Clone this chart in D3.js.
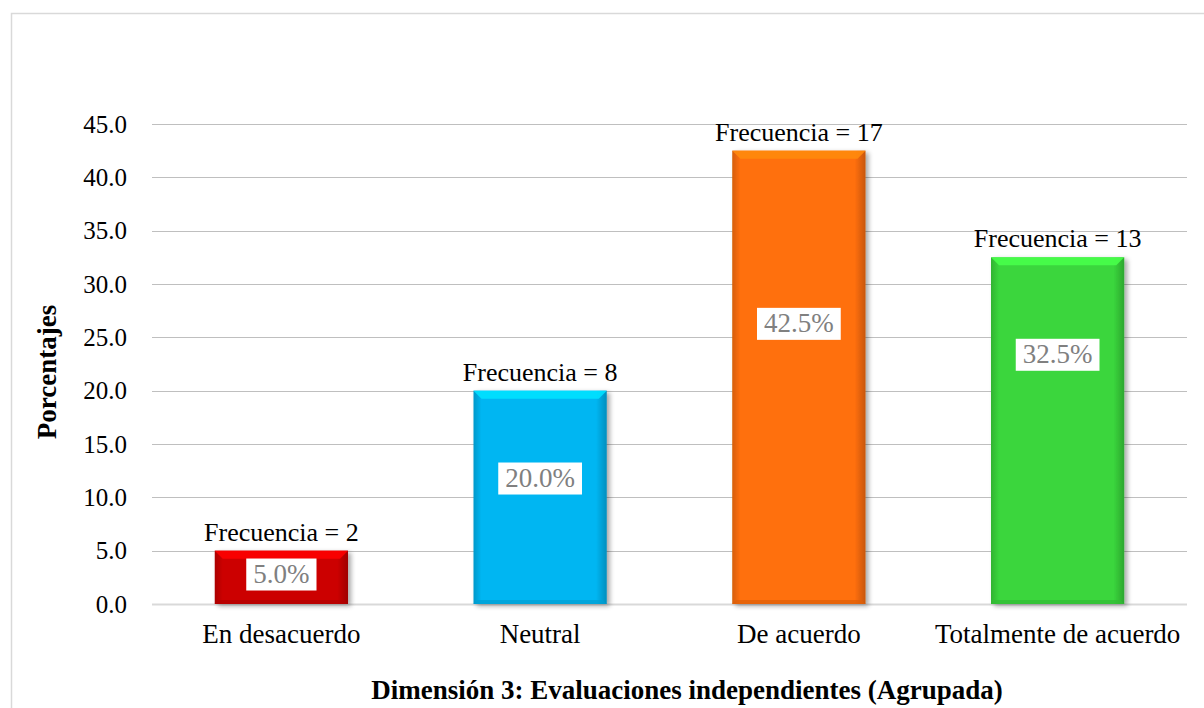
<!DOCTYPE html>
<html>
<head>
<meta charset="utf-8">
<script src="https://cdn.jsdelivr.net/npm/d3@7/dist/d3.min.js"></script>
<style>
  html, body { margin: 0; padding: 0; background: #fff; }
  svg { display: block; }
</style>
</head>
<body>
<svg id="chart"></svg>
<script>
const categories = ["En desacuerdo", "Neutral", "De acuerdo", "Totalmente de acuerdo"];
const percentages = [5.0, 20.0, 42.5, 32.5];
const frequencies = [2, 8, 17, 13];
// where the white % boxes sit (in percent units)
const labelAt = [2.9, 11.9, 26.4, 23.5];
const yTicks = [0, 5, 10, 15, 20, 25, 30, 35, 40, 45];
const barColors = ["#cc0000", "#00b6f2", "#ff6f0a", "#3ad63c"];

const width = 1204;
const height = 708;
const margin = { left: 152, right: 17, top: 124, bottom: 104 };
const serif = "'Liberation Serif', 'Times New Roman', serif";

const svg = d3.select("#chart")
  .attr("width", width)
  .attr("height", height)
  .attr("font-family", serif);

// chart frame
svg.append("rect")
  .attr("x", 11.5)
  .attr("y", 13.5)
  .attr("width", 1210)
  .attr("height", 720)
  .attr("fill", "none")
  .attr("stroke", "#d9d9d9")
  .attr("stroke-width", 1.5);

const x = d3.scaleBand()
  .domain(categories)
  .range([margin.left, width - margin.right])
  .paddingInner(0.485)
  .paddingOuter(0.2425);

const y = d3.scaleLinear()
  .domain([0, 45])
  .range([height - margin.bottom, margin.top]);

// gridlines
svg.append("g")
  .selectAll("line")
  .data(yTicks)
  .enter()
  .append("line")
  .attr("x1", margin.left)
  .attr("x2", width - margin.right)
  .attr("y1", (d) => Math.round(y(d)) + 0.5)
  .attr("y2", (d) => Math.round(y(d)) + 0.5)
  .attr("stroke", (d) => d === 0 ? "#d9d9d9" : "#bfbfbf")
  .attr("stroke-width", (d) => d === 0 ? 2 : 1);

// y axis labels
const yAxis = svg.append("g")
  .attr("transform", `translate(${margin.left - 25},0)`)
  .call(d3.axisLeft(y).tickValues(yTicks).tickFormat(d3.format(".1f")).tickSize(0).tickPadding(0))
  .attr("font-family", serif)
  .attr("font-size", 25);
yAxis.select(".domain").remove();
yAxis.selectAll("text").attr("fill", "#000");

// x axis labels
const xAxis = svg.append("g")
  .attr("transform", `translate(0,${height - margin.bottom})`)
  .call(d3.axisBottom(x).tickSize(0).tickPadding(20))
  .attr("font-family", serif)
  .attr("font-size", 27);
xAxis.select(".domain").remove();
xAxis.selectAll("text").attr("fill", "#000");

// gradients for the bevelled bars
const defs = svg.append("defs");
const shadow = defs.append("filter").attr("id", "shadow")
  .attr("x", "-10%").attr("y", "-10%").attr("width", "130%").attr("height", "130%");
shadow.append("feGaussianBlur").attr("in", "SourceAlpha").attr("stdDeviation", 2.5);
shadow.append("feOffset").attr("dx", 3).attr("dy", 2).attr("result", "b");
shadow.append("feComponentTransfer").append("feFuncA").attr("type", "linear").attr("slope", 0.35);
const merge = shadow.append("feMerge");
merge.append("feMergeNode");
merge.append("feMergeNode").attr("in", "SourceGraphic");

barColors.forEach((c, i) => {
  const g = defs.append("linearGradient")
    .attr("id", `side-${i}`)
    .attr("x1", "0%").attr("x2", "100%").attr("y1", "0%").attr("y2", "0%");
  g.append("stop").attr("offset", "0%").attr("stop-color", d3.color(c).darker(0.5));
  g.append("stop").attr("offset", "6%").attr("stop-color", c);
  g.append("stop").attr("offset", "92%").attr("stop-color", c);
  g.append("stop").attr("offset", "100%").attr("stop-color", d3.color(c).darker(0.7));
});

const bars = svg.append("g")
  .selectAll("g")
  .data(categories)
  .enter()
  .append("g");

const bevel = 8;

bars.append("rect")
  .attr("x", (d) => x(d))
  .attr("y", (d, i) => y(percentages[i]))
  .attr("width", x.bandwidth())
  .attr("height", (d, i) => y(0) - y(percentages[i]))
  .attr("fill", (d, i) => `url(#side-${i})`)
  .attr("filter", "url(#shadow)");

// top bevel highlight
bars.append("path")
  .attr("d", (d, i) => {
    const x0 = x(d), x1 = x(d) + x.bandwidth(), t = y(percentages[i]);
    return `M${x0},${t}L${x1},${t}L${x1 - bevel},${t + bevel}L${x0 + bevel},${t + bevel}Z`;
  })
  .attr("fill", (d, i) => d3.color(barColors[i]).brighter(0.6))
  .attr("opacity", 0.9);

// bottom bevel
bars.append("path")
  .attr("d", (d) => {
    const x0 = x(d), x1 = x(d) + x.bandwidth(), b = y(0);
    return `M${x0},${b}L${x1},${b}L${x1 - 4},${b - 4}L${x0 + 4},${b - 4}Z`;
  })
  .attr("fill", (d, i) => d3.color(barColors[i]).darker(0.4))
  .attr("opacity", 0.7);

// frequency labels
bars.append("text")
  .attr("x", (d) => x(d) + x.bandwidth() / 2)
  .attr("y", (d, i) => y(percentages[i]) - 10)
  .attr("text-anchor", "middle")
  .attr("font-size", 26)
  .attr("fill", "#000")
  .text((d, i) => `Frecuencia = ${frequencies[i]}`);

// percentage boxes
const pctLabel = bars.append("g")
  .attr("transform", (d, i) => `translate(${x(d) + x.bandwidth() / 2},${y(labelAt[i])})`);

pctLabel.append("text")
  .attr("text-anchor", "middle")
  .attr("dy", "0.35em")
  .attr("font-size", 27)
  .attr("fill", "#808080")
  .text((d, i) => `${percentages[i].toFixed(1)}%`)
  .each(function () {
    const bb = this.getBBox();
    d3.select(this.parentNode).insert("rect", "text")
      .attr("x", bb.x - 7)
      .attr("y", bb.y)
      .attr("width", bb.width + 14)
      .attr("height", bb.height + 2)
      .attr("fill", "#fff");
  });

// axis titles
svg.append("text")
  .attr("transform", `translate(56,${(y(0) + y(45)) / 2 + 8}) rotate(-90)`)
  .attr("text-anchor", "middle")
  .attr("font-size", 27)
  .attr("font-weight", "bold")
  .text("Porcentajes");

svg.append("text")
  .attr("x", 687)
  .attr("y", 699)
  .attr("text-anchor", "middle")
  .attr("font-size", 27)
  .attr("font-weight", "bold")
  .text("Dimensión 3: Evaluaciones independientes (Agrupada)");
</script>
</body>
</html>
